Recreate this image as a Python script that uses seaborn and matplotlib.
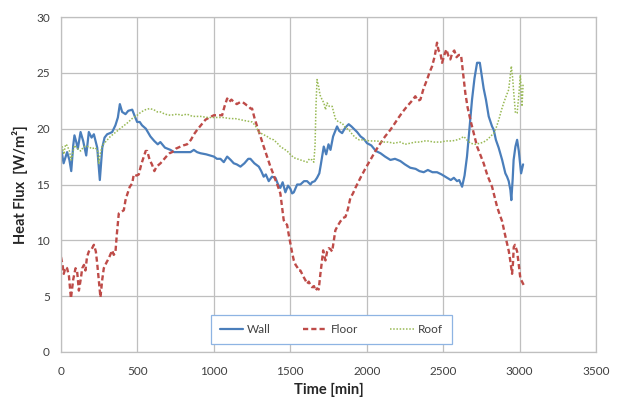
import numpy as np
import pandas as pd
import matplotlib
matplotlib.use("Agg")
import matplotlib.pyplot as plt
import seaborn as sns

# ---- heat flux records (time in minutes, flux in W/m²) ----
wall_t = [0, 17, 40, 55, 67, 80, 88, 100, 110, 128, 145, 165, 182, 200, 215, 237, 254, 270, 285,
          302, 320, 335, 356, 372, 385, 400, 422, 440, 466, 480, 498, 515, 530, 555, 585, 610, 633,
          650, 680, 716, 740, 760, 800, 847, 869, 890, 912, 950, 1000, 1020, 1043, 1065, 1087, 1110,
          1130, 1150, 1174, 1200, 1225, 1239, 1265, 1294, 1310, 1326, 1340, 1359, 1380, 1403, 1420,
          1435, 1450, 1468, 1485, 1501, 1512, 1523, 1545, 1566, 1590, 1610, 1632, 1642, 1660, 1675,
          1690, 1700, 1719, 1735, 1750, 1763, 1780, 1806, 1820, 1839, 1860, 1882, 1900, 1937, 1960,
          1980, 2002, 2030, 2060, 2090, 2120, 2155, 2185, 2220, 2250, 2285, 2320, 2345, 2373, 2400,
          2430, 2460, 2490, 2526, 2550, 2570, 2591, 2605, 2624, 2640, 2656, 2672, 2689, 2705, 2722,
          2740, 2750, 2765, 2780, 2798, 2820, 2831, 2845, 2863, 2886, 2907, 2918, 2929, 2940, 2946,
          2955, 2961, 2973, 2984, 2995, 3005, 3010, 3023]
wall_q = [18.3, 16.9, 17.9, 17.2, 16.2, 18.5, 19.4, 18.8, 18.2, 19.7, 18.9, 17.6, 19.7, 19.2, 19.5,
          18.3, 15.4, 18.3, 19.2, 19.5, 19.6, 19.7, 20.3, 21.0, 22.2, 21.5, 21.3, 21.6, 21.7, 21.2,
          20.6, 20.6, 20.3, 20.0, 19.3, 18.9, 18.6, 18.8, 18.3, 18.1, 17.9, 17.9, 17.9, 17.9, 18.1,
          17.9, 17.8, 17.7, 17.5, 17.3, 17.3, 17.0, 17.5, 17.2, 16.9, 16.8, 16.6, 16.9, 17.3, 17.3,
          16.9, 16.6, 16.2, 15.7, 15.9, 15.3, 15.7, 15.6, 15.0, 14.7, 15.2, 14.3, 14.9, 14.6, 14.2,
          14.3, 15.0, 15.0, 15.3, 15.3, 15.0, 15.2, 15.3, 15.6, 16.0, 16.8, 18.4, 17.7, 18.6, 18.1,
          19.3, 20.2, 19.8, 19.6, 20.1, 20.4, 20.2, 19.7, 19.3, 19.1, 18.7, 18.5, 18.0, 17.8, 17.5,
          17.2, 17.3, 17.1, 16.8, 16.5, 16.4, 16.2, 16.1, 16.3, 16.1, 16.1, 15.9, 15.6, 15.4, 15.6,
          15.3, 15.4, 14.8, 15.8, 17.5, 20.0, 22.6, 24.5, 25.9, 25.9, 25.0, 23.6, 22.6, 21.1, 20.2,
          19.9, 19.0, 18.3, 17.2, 16.0, 15.7, 15.3, 14.5, 13.6, 15.5, 17.2, 18.4, 19.0, 18.0, 16.6,
          16.0, 16.8]

floor_t = [0, 10, 18, 30, 40, 52, 65, 80, 95, 105, 117, 130, 139, 150, 160, 170, 182, 200, 215, 228,
           237, 250, 258, 270, 280, 297, 313, 325, 335, 345, 356, 365, 378, 390, 411, 422, 433, 450,
           466, 476, 495, 509, 525, 542, 554, 564, 580, 595, 611, 625, 651, 670, 695, 710, 727, 750,
           782, 800, 825, 850, 870, 891, 915, 945, 970, 1000, 1030, 1054, 1070, 1087, 1100, 1115,
           1130, 1150, 1175, 1196, 1215, 1228, 1240, 1250, 1265, 1283, 1305, 1326, 1348, 1370, 1390,
           1403, 1420, 1435, 1446, 1457, 1468, 1479, 1490, 1501, 1512, 1523, 1535, 1545, 1555, 1566,
           1577, 1588, 1600, 1610, 1621, 1632, 1643, 1655, 1665, 1676, 1686, 1697, 1706, 1715, 1730,
           1741, 1752, 1763, 1774, 1785, 1795, 1810, 1828, 1845, 1861, 1877, 1893, 1910, 1926, 1959,
           1990, 2024, 2057, 2090, 2120, 2155, 2180, 2209, 2235, 2264, 2290, 2318, 2335, 2351, 2372,
           2395, 2410, 2428, 2445, 2460, 2470, 2482, 2493, 2508, 2521, 2535, 2547, 2560, 2573, 2588,
           2602, 2617, 2630, 2645, 2660, 2678, 2700, 2722, 2745, 2765, 2790, 2820, 2853, 2870, 2886,
           2900, 2918, 2930, 2940, 2951, 2957, 2962, 2970, 2984, 2995, 3005, 3016, 3027]
floor_q = [8.5, 7.8, 7.0, 7.6, 7.5, 6.8, 4.8, 6.5, 7.5, 7.3, 5.5, 6.6, 7.5, 7.8, 7.3, 8.5, 9.0, 9.2,
           9.6, 9.0, 7.9, 6.0, 4.9, 6.5, 7.5, 8.0, 8.4, 8.8, 9.1, 8.7, 8.9, 10.5, 12.4, 12.5, 12.7,
           13.6, 14.1, 14.8, 15.1, 15.9, 15.8, 15.9, 16.8, 17.5, 18.0, 18.0, 17.2, 16.8, 16.2, 16.6,
           16.9, 17.2, 17.6, 17.8, 17.9, 18.2, 18.4, 18.5, 18.6, 19.0, 19.5, 19.9, 20.3, 20.8, 21.0,
           21.2, 21.2, 21.2, 22.0, 22.7, 22.4, 22.6, 22.4, 22.2, 22.4, 22.3, 22.1, 22.0, 21.8, 21.8,
           21.0, 20.2, 19.3, 18.4, 17.5, 16.6, 15.9, 15.4, 14.8, 14.2, 13.0, 11.8, 11.5, 11.4, 10.5,
           9.7, 8.9, 8.2, 7.8, 7.6, 7.3, 7.3, 7.0, 6.7, 6.4, 6.1, 6.3, 6.0, 5.8, 5.9, 5.5, 5.7, 5.6,
           7.0, 8.0, 9.1, 8.2, 9.0, 9.3, 9.2, 9.0, 10.0, 10.9, 11.3, 11.7, 12.0, 12.1, 12.8, 13.8,
           14.2, 14.7, 15.6, 16.4, 17.2, 18.0, 18.7, 19.3, 19.9, 20.4, 21.0, 21.5, 22.0, 22.4, 22.9,
           22.5, 22.6, 23.6, 24.4, 25.0, 25.6, 26.5, 27.7, 27.0, 26.8, 25.9, 26.6, 27.1, 26.5, 26.2,
           26.8, 27.0, 26.4, 26.6, 26.6, 25.0, 23.2, 21.9, 20.8, 19.6, 18.4, 17.6, 16.9, 15.8, 14.8,
           13.0, 12.3, 11.7, 10.8, 9.7, 9.0, 8.1, 7.0, 8.0, 9.4, 9.6, 9.0, 7.8, 6.6, 6.3, 6.0]

roof_t = [0, 10, 18, 30, 40, 55, 67, 80, 88, 110, 128, 150, 182, 200, 225, 240, 247, 258, 270, 290,
          323, 350, 378, 405, 433, 465, 498, 525, 553, 580, 607, 630, 651, 680, 716, 760, 790, 825,
          860, 912, 960, 1022, 1060, 1109, 1140, 1174, 1210, 1250, 1270, 1294, 1320, 1348, 1370,
          1392, 1415, 1435, 1457, 1479, 1500, 1523, 1545, 1566, 1590, 1610, 1625, 1643, 1654, 1662,
          1668, 1675, 1685, 1695, 1708, 1720, 1730, 1741, 1755, 1774, 1785, 1795, 1815, 1839, 1860,
          1883, 1905, 1926, 1950, 1981, 2020, 2068, 2100, 2140, 2177, 2220, 2250, 2286, 2320, 2350,
          2373, 2400, 2440, 2482, 2520, 2560, 2591, 2612, 2635, 2655, 2678, 2710, 2743, 2765, 2787,
          2810, 2831, 2850, 2864, 2880, 2896, 2912, 2929, 2938, 2946, 2955, 2962, 2973, 2984, 2995,
          3005, 3010, 3016, 3023]
roof_q = [18.7, 18.3, 17.7, 18.6, 18.5, 18.0, 17.2, 18.0, 18.5, 18.2, 18.0, 18.4, 18.4, 18.2, 18.3,
          18.0, 16.9, 17.8, 18.5, 18.8, 19.3, 19.6, 19.9, 20.2, 20.5, 20.9, 21.2, 21.5, 21.7, 21.8,
          21.7, 21.5, 21.5, 21.3, 21.2, 21.3, 21.2, 21.3, 21.1, 21.1, 21.0, 21.0, 21.0, 20.9, 20.9,
          20.8, 20.7, 20.6, 20.3, 19.7, 19.5, 19.3, 19.1, 19.0, 18.7, 18.4, 18.2, 18.0, 17.7, 17.4,
          17.3, 17.2, 17.1, 17.0, 17.3, 17.2, 17.0, 18.5, 22.0, 24.4, 23.8, 23.0, 22.6, 22.3, 21.7,
          22.3, 22.0, 22.0, 21.4, 20.9, 20.6, 20.5, 20.1, 19.9, 19.5, 19.2, 19.0, 19.0, 18.9, 18.9,
          18.8, 18.8, 18.7, 18.8, 18.6, 18.7, 18.8, 18.8, 18.9, 18.9, 18.8, 18.8, 18.9, 18.9, 19.0,
          19.1, 19.3, 19.0, 18.7, 18.6, 18.7, 18.8, 19.0, 19.3, 19.6, 20.2, 20.8, 21.6, 22.3, 22.9,
          23.5, 24.6, 25.6, 24.5, 23.2, 21.4, 21.4, 23.0, 24.8, 23.5, 22.0, 24.0]

series_names = ["Wall", "Floor", "Roof"]
series_colors = {"Wall": "#4A7EBB", "Floor": "#BE4B48", "Roof": "#98B954"}

x_ticks = [0, 500, 1000, 1500, 2000, 2500, 3000, 3500]
y_ticks = [0, 5, 10, 15, 20, 25, 30]

frames = []
for name, t, q in [("Wall", wall_t, wall_q), ("Floor", floor_t, floor_q), ("Roof", roof_t, roof_q)]:
    frames.append(pd.DataFrame({"Time": t, "Flux": q, "Surface": name}))
df = pd.concat(frames, ignore_index=True)

sns.set_theme(style="white")
plt.rcParams["font.family"] = ["Lato", "DejaVu Sans"]

fig = plt.figure(figsize=(6.18, 4.03), dpi=100)
ax = fig.add_axes([61 / 618, 1 - 352 / 403, 535 / 618, 335 / 403])

line_styles = {
    "Wall": dict(lw=1.6, ls="-"),
    "Floor": dict(lw=1.7, ls=(0, (2.2, 1.3))),
    "Roof": dict(lw=1.1, ls=(0, (1, 1.1))),
}
for name in series_names:
    sub = df[df["Surface"] == name]
    sns.lineplot(data=sub, x="Time", y="Flux", ax=ax, color=series_colors[name],
                 estimator=None, sort=False, label=name,
                 linewidth=line_styles[name]["lw"], linestyle=line_styles[name]["ls"])

ax.set_xlim(0, 3500)
ax.set_ylim(0, 30)
ax.set_xticks(x_ticks)
ax.set_yticks(y_ticks)
ax.grid(True, color="#BFBFBF", linewidth=0.9)
for sp in ax.spines.values():
    sp.set_color("#BFBFBF")
    sp.set_linewidth(0.9)
ax.tick_params(axis="both", length=0, labelsize=8.5, labelcolor="#404040")
ax.tick_params(axis="x", pad=10)
ax.tick_params(axis="y", pad=8)

ax.set_xlabel("Time [min]", fontsize=10.5, fontweight="bold", color="#262626")
ax.set_ylabel("Heat Flux  [W/m²]", fontsize=10.5, fontweight="bold", color="#262626")
ax.xaxis.set_label_coords(0.5, -0.092)
ax.yaxis.set_label_coords(-0.062, 0.5)

leg = ax.legend(loc="center", bbox_to_anchor=(0.505, 0.067), ncol=3, fontsize=8.5,
                frameon=True, fancybox=False, framealpha=1, edgecolor="#8EB4E3",
                handlelength=2.0, handletextpad=0.35, columnspacing=2.7, borderpad=0.75)
leg.get_frame().set_linewidth(0.9)
for txt in leg.get_texts():
    txt.set_color("#404040")

fig.savefig("out.png", dpi=100)
